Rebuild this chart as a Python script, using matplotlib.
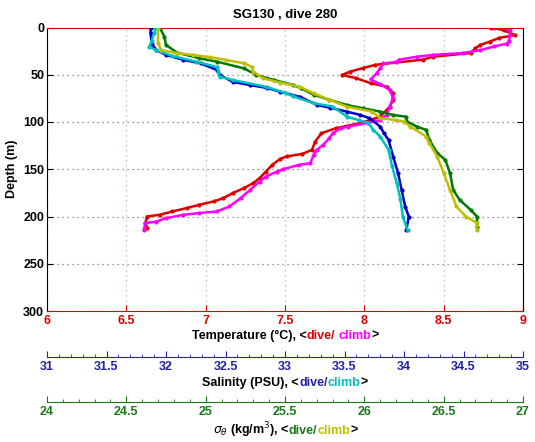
import matplotlib
matplotlib.use("Agg")
import matplotlib.pyplot as plt
from matplotlib.ticker import MultipleLocator, FuncFormatter
from matplotlib.offsetbox import TextArea, HPacker, AnnotationBbox

plt.rcParams['font.family'] = ['Liberation Sans', 'DejaVu Sans']

# temperature, dive (red)
t_dive_depth = [0, 3, 8, 11, 15, 18.5, 22, 27, 31, 34, 39.5, 43, 46.7, 50.2, 53.7, 59, 62.5,
                69.6, 76.6, 83.7, 94.3, 97.8, 101.3, 106.6, 111.9, 120.7, 129.5, 133.7, 136.5,
                139, 145.3, 152.4, 159.4, 164.7, 170, 175.3, 180.6, 184.1, 187.6, 191.1,
                194.7, 198.2, 200, 207, 212]
t_dive = [8.80, 8.88, 8.95, 8.85, 8.79, 8.73, 8.70, 8.67, 8.43, 8.37, 8.07, 7.99, 7.91, 7.86,
          7.95, 8.04, 8.14, 8.18, 8.18, 8.16, 8.10, 8.04, 7.97, 7.82, 7.73, 7.69, 7.67, 7.61,
          7.51, 7.47, 7.42, 7.38, 7.34, 7.30, 7.24, 7.17, 7.11, 7.05, 6.96, 6.88, 6.79, 6.71,
          6.63, 6.62, 6.63]

# temperature, climb (magenta)
t_climb_depth = [0, 1, 3, 8, 14, 17, 20, 24, 27, 29, 31, 34, 36.5, 38, 43, 48, 55, 60, 66,
                 74.5, 84, 92.5, 98, 101, 104.8, 106.6, 111.9, 117.1, 124.2, 129.5, 134.8,
                 143.6, 145.3, 149.9, 152.4, 157.7, 163, 171.8, 180.6, 189.4, 194.7, 196.4,
                 198.2, 201.7, 205.3, 207, 214]
t_climb = [8.82, 8.90, 8.92, 8.92, 8.91, 8.90, 8.82, 8.73, 8.62, 8.43, 8.33, 8.22, 8.20,
           8.12, 8.10, 8.08, 8.04, 8.10, 8.16, 8.18, 8.16, 8.14, 8.10, 8.02, 7.90, 7.85,
           7.80, 7.78, 7.74, 7.70, 7.68, 7.66, 7.59, 7.49, 7.45, 7.38, 7.34, 7.28, 7.22,
           7.15, 7.07, 6.96, 6.86, 6.75, 6.69, 6.62, 6.61]

# salinity, dive (blue)
s_dive_depth = [0, 6, 17, 24, 29, 34, 38, 45, 50, 57.5, 61, 64, 68, 73.5, 82, 85, 89, 92.5,
                96, 104.8, 111.5, 119, 137, 154, 172, 189.5, 200, 214]
s_dive = [31.87, 31.87, 31.88, 31.92, 32.00, 32.14, 32.29, 32.43, 32.45, 32.56, 32.71, 32.85,
          32.96, 33.13, 33.27, 33.38, 33.52, 33.63, 33.71, 33.80, 33.83, 33.87, 33.91, 33.95,
          33.98, 34.01, 34.04, 34.02]

# salinity, climb (cyan)
s_climb_depth = [0, 6, 14, 20.5, 24, 30, 36, 42, 47, 52, 55.5, 63, 69.6, 73, 80, 83.7, 94.3,
                 98, 101, 108, 115.5, 129.5, 147, 165, 182, 200, 214.5]
s_climb = [31.92, 31.90, 31.88, 31.86, 31.92, 32.05, 32.25, 32.43, 32.44, 32.45, 32.56, 32.85,
           33.01, 33.07, 33.24, 33.40, 33.52, 33.62, 33.70, 33.74, 33.80, 33.87, 33.90, 33.94,
           33.97, 33.99, 34.03]

# sigma-theta, dive (green)
d_dive_depth = [0, 9.7, 18.5, 26.6, 32.6, 36.1, 43.2, 50.2, 55.5, 60.8, 64.3, 71, 76.6, 82,
                85.4, 89, 92.5, 94.3, 99.6, 104.8, 108.4, 119, 133, 140, 154, 171.8, 182.3,
                193, 200, 210.6]
d_dive = [24.71, 24.74, 24.75, 24.82, 24.96, 25.07, 25.24, 25.32, 25.43, 25.55, 25.60, 25.68,
          25.78, 25.89, 25.99, 26.10, 26.18, 26.26, 26.27, 26.33, 26.39, 26.41, 26.46, 26.51,
          26.54, 26.56, 26.60, 26.67, 26.71, 26.71]

# sigma-theta, climb (olive)
d_climb_depth = [0, 16.7, 23.8, 27.3, 29, 31.5, 34.4, 37.8, 41.4, 46.7, 53.7, 58.3, 62.5,
                 69.6, 76.6, 83.7, 89, 96, 98, 99.6, 104.8, 115.4, 122.4, 136.6, 154, 171.8,
                 189.4, 200, 207, 214]
d_climb = [24.70, 24.70, 24.72, 24.82, 24.92, 25.03, 25.13, 25.24, 25.29, 25.30, 25.36, 25.47,
           25.59, 25.68, 25.78, 25.89, 26.05, 26.10, 26.20, 26.25, 26.29, 26.39, 26.41, 26.46,
           26.50, 26.54, 26.58, 26.64, 26.71, 26.71]

temp_ticks = [6, 6.5, 7, 7.5, 8, 8.5, 9]
depth_ticks = [0, 50, 100, 150, 200, 250, 300]

RED = '#dd0000'
MAG = '#ff00ff'
BLUE = '#0000cc'
CYAN = '#00bfbf'
GREEN = '#007a00'
OLIVE = '#bfbf00'
BLUE_AX = '#2222a8'
GREEN_AX = '#1a7a1a'

fig = plt.figure(figsize=(5.35, 4.42), dpi=100)
ax = fig.add_axes([47 / 535, 1 - 311 / 442, 476 / 535, 283.5 / 442])

sty = dict(lw=1.8, marker='.', ms=4)
ax.plot(t_dive, t_dive_depth, color=RED, **sty)
ax.plot(t_climb, t_climb_depth, color=MAG, **sty)
ax.set_xlim(6, 9)
ax.set_ylim(300, 0)
ax.set_xticks(temp_ticks)
ax.xaxis.set_major_formatter(FuncFormatter(lambda v, p: '%g' % v))
ax.set_yticks(depth_ticks)
ax.tick_params(axis='x', colors=RED, top=True, direction='in', length=4, pad=3, labelsize=9)
ax.tick_params(axis='y', right=True, direction='in', length=4, pad=2, labelsize=9)
for lab in ax.get_xticklabels() + ax.get_yticklabels():
    lab.set_fontweight('bold')
ax.spines['bottom'].set_color(RED)
ax.spines['top'].set_color(RED)
ax.xaxis.grid(True, color='#c8a8a8', linestyle=(0, (1, 3)), lw=0.9)
ax.yaxis.grid(True, color='#777777', linestyle=(0, (1, 3)), lw=0.9)
ax.set_ylabel('Depth (m)', fontsize=9, fontweight='bold', labelpad=4)
ax.set_title('SG130 , dive 280', fontsize=9.5, fontweight='bold', pad=7)


def extra_axis(lo, hi, outward, color):
    tw = ax.twiny()
    tw.set_xlim(lo, hi)
    tw.xaxis.set_ticks_position('bottom')
    tw.spines['bottom'].set_position(('outward', outward))
    tw.spines['bottom'].set_color(color)
    for s in ['top', 'left', 'right']:
        tw.spines[s].set_visible(False)
    tw.xaxis.set_major_locator(MultipleLocator(0.5))
    tw.xaxis.set_minor_locator(MultipleLocator(0.1))
    tw.xaxis.set_major_formatter(FuncFormatter(lambda v, p: '%g' % v))
    tw.tick_params(axis='x', which='both', colors=color, direction='in', pad=3, labelsize=9)
    tw.tick_params(axis='x', which='major', length=4)
    tw.tick_params(axis='x', which='minor', length=2)
    for lab in tw.get_xticklabels():
        lab.set_fontweight('bold')
    return tw


ax_s = extra_axis(31, 35, 46 * 0.72, BLUE_AX)
ax_s.plot(s_dive, s_dive_depth, color=BLUE, **sty)
ax_s.plot(s_climb, s_climb_depth, color=CYAN, **sty)

ax_d = extra_axis(24, 27, 91 * 0.72, GREEN_AX)
ax_d.plot(d_dive, d_dive_depth, color=GREEN, **sty)
ax_d.plot(d_climb, d_climb_depth, color=OLIVE, **sty)


def colored_label(y, parts):
    boxes = [TextArea(s, textprops=dict(color=c, fontweight='bold', fontsize=9)) for s, c in parts]
    pack = HPacker(children=boxes, align='baseline', pad=0, sep=0)
    ab = AnnotationBbox(pack, (285 / 535, y), xycoords='figure fraction', frameon=False,
                        box_alignment=(0.5, 0.5), pad=0)
    fig.add_artist(ab)


colored_label(1 - 336 / 442, [('Temperature (°C), <', 'black'), ('dive/', RED), (' ', 'black'),
                              ('climb', MAG), ('>', 'black')])
colored_label(1 - 383 / 442, [('Salinity (PSU), <', 'black'), ('dive/', BLUE_AX),
                              ('climb', CYAN), ('>', 'black')])
colored_label(1 - 430 / 442, [(r'$\sigma_\theta$ (kg/m$^3$), <', 'black'), ('dive/', GREEN_AX),
                              ('climb', OLIVE), ('>', 'black')])

fig.savefig('out.png', dpi=100)
